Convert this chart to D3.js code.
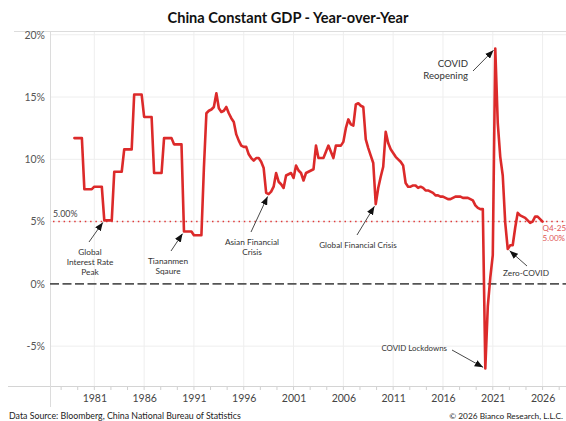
<!DOCTYPE html>
<html>
<head>
<meta charset="utf-8">
<script src="https://cdn.jsdelivr.net/npm/d3@7"></script>
<style>
  body { margin: 0; background: #fff; }
  svg { display: block; font-family: Lato, "Open Sans", sans-serif; }
</style>
</head>
<body>
<svg id="chart" width="566" height="421"></svg>
<script>
// Annual real GDP growth (%), recorded at each year end and carried through the following quarters
const annualYears = [1978, 1979, 1980, 1981, 1982, 1983, 1984, 1985, 1986, 1987, 1988, 1989, 1990, 1991];
const annualGrowth = [11.7, 7.6, 7.8, 5.1, 9.0, 10.8, 15.2, 13.4, 8.9, 11.7, 11.2, 4.2, 3.9, 9.3];

// Quarterly year-to-date real GDP growth (%), Q1 1992 .. Q4 2025
const quarterlyFrom = 1992;
const quarterlyYtd = [
  13.7, 13.9, 14.0, 14.2,   // 1992
  15.3, 14.1, 13.8, 13.9,   // 1993
  14.2, 13.7, 13.3, 13.0,   // 1994
  12.0, 11.5, 11.1, 11.0,   // 1995
  11.0, 10.4, 10.1, 9.9,    // 1996
  10.1, 10.1, 9.8, 9.3,     // 1997
  7.3, 7.2, 7.4, 7.8,       // 1998
  8.9, 8.2, 8.0, 7.7,       // 1999
  8.7, 8.8, 8.9, 8.5,       // 2000
  9.5, 9.1, 8.9, 8.3,       // 2001
  8.9, 9.0, 9.1, 9.2,       // 2002
  11.1, 10.1, 10.1, 10.1,   // 2003
  10.6, 11.1, 10.6, 10.1,   // 2004
  11.1, 11.1, 11.1, 11.4,   // 2005
  12.5, 13.2, 12.8, 12.7,   // 2006
  14.4, 14.5, 14.3, 14.2,   // 2007
  11.6, 10.9, 10.3, 9.7,    // 2008
  6.4, 7.7, 8.6, 9.4,       // 2009
  12.2, 11.3, 10.8, 10.5,   // 2010
  10.2, 10.0, 9.8, 9.5,     // 2011
  8.1, 7.8, 7.8, 7.9,       // 2012
  7.9, 7.7, 7.8, 7.7,       // 2013
  7.5, 7.5, 7.4, 7.3,       // 2014
  7.1, 7.1, 7.0, 7.0,       // 2015
  6.9, 6.8, 6.8, 6.9,       // 2016
  7.0, 7.0, 7.0, 6.9,       // 2017
  6.9, 6.9, 6.8, 6.7,       // 2018
  6.3, 6.1, 6.0, 6.0,       // 2019
  -6.8, -1.8, 0.5, 2.3,     // 2020
  18.9, 12.9, 10.2, 8.7,    // 2021
  4.9, 2.8, 3.1, 3.1,       // 2022
  4.5, 5.7, 5.5, 5.4,       // 2023
  5.3, 5.1, 4.9, 5.0,       // 2024
  5.4, 5.4, 5.2, 5.0        // 2025
];

const yTickValues = [-5, 0, 5, 10, 15, 20];
const xTickYears = [1981, 1986, 1991, 1996, 2001, 2006, 2011, 2016, 2021, 2026];
const referenceRate = 5.0;
const latestLabel = "Q4-25";

// Event call-outs: the quarter each arrow points at, and where its text sits
const events = [
  { at: 1982.0,  lines: ["Global", "Interest Rate", "Peak"], tx: 90,  ty: 252, anchor: "middle", tail: [89, 242],  size: 8.3 },
  { at: 1990.0,  lines: ["Tiananmen", "Sqaure"],             tx: 168, ty: 261, anchor: "middle", tail: [171, 251], size: 8.3 },
  { at: 1998.5,  lines: ["Asian Financial", "Crisis"],       tx: 252, ty: 242, anchor: "middle", tail: [251, 232], size: 8.3 },
  { at: 2009.25, lines: ["Global Financial Crisis"],         tx: 358, ty: 245, anchor: "middle", tail: [357, 235], size: 8.1 },
  { at: 2020.25, lines: ["COVID Lockdowns"],                 tx: 447, ty: 348, anchor: "end",    tail: [452, 350], size: 7.9 },
  { at: 2021.25, lines: ["COVID", "Reopening"],              tx: 468, ty: 64,  anchor: "end",    tail: [473, 71],  size: 9.6 },
  { at: 2022.5,  lines: ["Zero-COVID"],                      tx: 526, ty: 273, anchor: "middle", tail: [527, 266], size: 8.3 }
];

// Build the quarterly series
const series = [];
annualYears.forEach((yr, i) => {
  const isLast = i === annualYears.length - 1;
  const quarters = isLast ? 1 : 4;
  for (let q = 0; q < quarters; q++) series.push({ t: yr + 1 + q / 4, v: annualGrowth[i] });
});
quarterlyYtd.forEach((v, i) => series.push({ t: quarterlyFrom + (i + 1) / 4, v }));

const W = 566, H = 421;
const plot = { left: 50, right: 566, top: 31, bottom: 386 };

const x = d3.scaleLinear().domain([1976.55, 2028.35]).range([plot.left, plot.right]);
const y = d3.scaleLinear().domain([-8.2, 20.3]).range([plot.bottom, plot.top]);

const svg = d3.select("#chart");
svg.append("rect").attr("width", W).attr("height", H).attr("fill", "#fff");

// Title
svg.append("text")
  .attr("x", 288).attr("y", 22.5)
  .attr("text-anchor", "middle")
  .attr("font-size", 14.6).attr("font-weight", 700).attr("fill", "#111")
  .text("China Constant GDP - Year-over-Year");

// Gridlines
const grid = svg.append("g");
grid.selectAll(".hg").data(yTickValues.filter(v => v !== 0)).join("line")
  .attr("x1", plot.left).attr("x2", plot.right)
  .attr("y1", d => y(d)).attr("y2", d => y(d))
  .attr("stroke", "#eeeeee").attr("stroke-width", 1);
grid.selectAll(".vg").data(xTickYears).join("line")
  .attr("x1", d => x(d)).attr("x2", d => x(d))
  .attr("y1", plot.top).attr("y2", plot.bottom)
  .attr("stroke", "#eeeeee").attr("stroke-width", 1);

// Frame lines
svg.append("line").attr("x1", 14).attr("x2", plot.right).attr("y1", plot.top + 0.5).attr("y2", plot.top + 0.5)
  .attr("stroke", "#dcdcdc").attr("stroke-width", 1);
svg.append("line").attr("x1", 8).attr("x2", plot.right).attr("y1", plot.bottom + 0.5).attr("y2", plot.bottom + 0.5)
  .attr("stroke", "#d4d4d4").attr("stroke-width", 1);
svg.append("line").attr("x1", plot.left + 0.5).attr("x2", plot.left + 0.5).attr("y1", plot.top).attr("y2", 407)
  .attr("stroke", "#dcdcdc").attr("stroke-width", 1);

// Y axis labels
const yAxis = d3.axisLeft(y).tickValues(yTickValues).tickFormat(d => d + "%").tickSize(0).tickPadding(5);
svg.append("g").attr("transform", `translate(${plot.left},0)`).call(yAxis)
  .call(g => g.select(".domain").remove())
  .call(g => g.selectAll("text").attr("font-size", 10.5).attr("fill", "#555").attr("font-family", "Lato, sans-serif"));

// X axis labels and small ticks
const xAxis = d3.axisBottom(x).tickValues(xTickYears).tickFormat(d3.format("d")).tickSize(0).tickPadding(9);
svg.append("g").attr("transform", `translate(0,${plot.bottom})`).call(xAxis)
  .call(g => g.select(".domain").remove())
  .call(g => g.selectAll("text").attr("font-size", 10.5).attr("fill", "#444").attr("font-family", "Lato, sans-serif"));
svg.append("g").selectAll("line")
  .data(d3.range(-2, 30).map(k => 1981 + k * 5 / 3).filter(t => x(t) > plot.left + 3 && x(t) < plot.right))
  .join("line")
  .attr("x1", d => x(d)).attr("x2", d => x(d))
  .attr("y1", plot.bottom + 1).attr("y2", plot.bottom + 4)
  .attr("stroke", "#cfcfcf").attr("stroke-width", 1);

// Zero line
svg.append("line")
  .attr("x1", plot.left).attr("x2", plot.right)
  .attr("y1", y(0)).attr("y2", y(0))
  .attr("stroke", "#555").attr("stroke-width", 1.8).attr("stroke-dasharray", "9,3.5");

// Reference rate line
svg.append("line")
  .attr("x1", plot.left + 3).attr("x2", plot.right)
  .attr("y1", y(referenceRate)).attr("y2", y(referenceRate))
  .attr("stroke", "#e03a3a").attr("stroke-width", 1.5).attr("stroke-dasharray", "1.5,3.8");
svg.append("text")
  .attr("x", 53).attr("y", y(referenceRate) - 4.5)
  .attr("font-size", 8.8).attr("fill", "#444")
  .text(d3.format(".2f")(referenceRate) + "%");

// GDP line
const line = d3.line().x(d => x(d.t)).y(d => y(d.v));
svg.append("path")
  .datum(series)
  .attr("d", line)
  .attr("fill", "none")
  .attr("stroke", "#dc2a2a").attr("stroke-width", 2.6)
  .attr("stroke-linejoin", "round").attr("stroke-linecap", "round");

// Latest value label
const latest = series[series.length - 1];
const lastLbl = svg.append("text")
  .attr("font-size", 8.1).attr("fill", "#e05555");
lastLbl.append("tspan").attr("x", x(latest.t)).attr("y", y(latest.v) + 9.5).text(latestLabel);
lastLbl.append("tspan").attr("x", x(latest.t)).attr("y", y(latest.v) + 19.5).text(d3.format(".2f")(latest.v) + "%");

// Event call-outs
const defs = svg.append("defs");
defs.append("marker")
  .attr("id", "arrow").attr("viewBox", "0 0 10 8")
  .attr("refX", 10).attr("refY", 4)
  .attr("markerWidth", 8.5).attr("markerHeight", 7)
  .attr("markerUnits", "userSpaceOnUse")
  .attr("orient", "auto")
  .append("path").attr("d", "M0,0 L10,4 L0,8 Z").attr("fill", "#111");

const callouts = svg.append("g");
events.forEach(ev => {
  const pt = series.find(d => Math.abs(d.t - ev.at) < 1e-6);
  const px = x(pt.t), py = y(pt.v);
  const dx = px - ev.tail[0], dy = py - ev.tail[1];
  const len = Math.hypot(dx, dy);
  const gap = 2.5;
  callouts.append("line")
    .attr("x1", ev.tail[0]).attr("y1", ev.tail[1])
    .attr("x2", px - dx / len * gap).attr("y2", py - dy / len * gap)
    .attr("stroke", "#333").attr("stroke-width", 0.9)
    .attr("marker-end", "url(#arrow)");
  const t = callouts.append("text")
    .attr("text-anchor", ev.anchor)
    .attr("font-size", ev.size).attr("fill", "#333");
  const lh = ev.size * 1.18;
  ev.lines.forEach((s, i) => {
    t.append("tspan").attr("x", ev.tx).attr("y", ev.ty + ev.size * 0.36 + i * lh).text(s);
  });
});

// Footer
svg.append("text").attr("x", 9).attr("y", 419)
  .attr("font-size", 8.8).attr("fill", "#222")
  .text("Data Source: Bloomberg, China National Bureau of Statistics");
svg.append("text").attr("x", 563).attr("y", 419).attr("text-anchor", "end")
  .attr("font-size", 8.3).attr("fill", "#222")
  .text("\u00A9 2026 Bianco Research, L.L.C.");
</script>
</body>
</html>
